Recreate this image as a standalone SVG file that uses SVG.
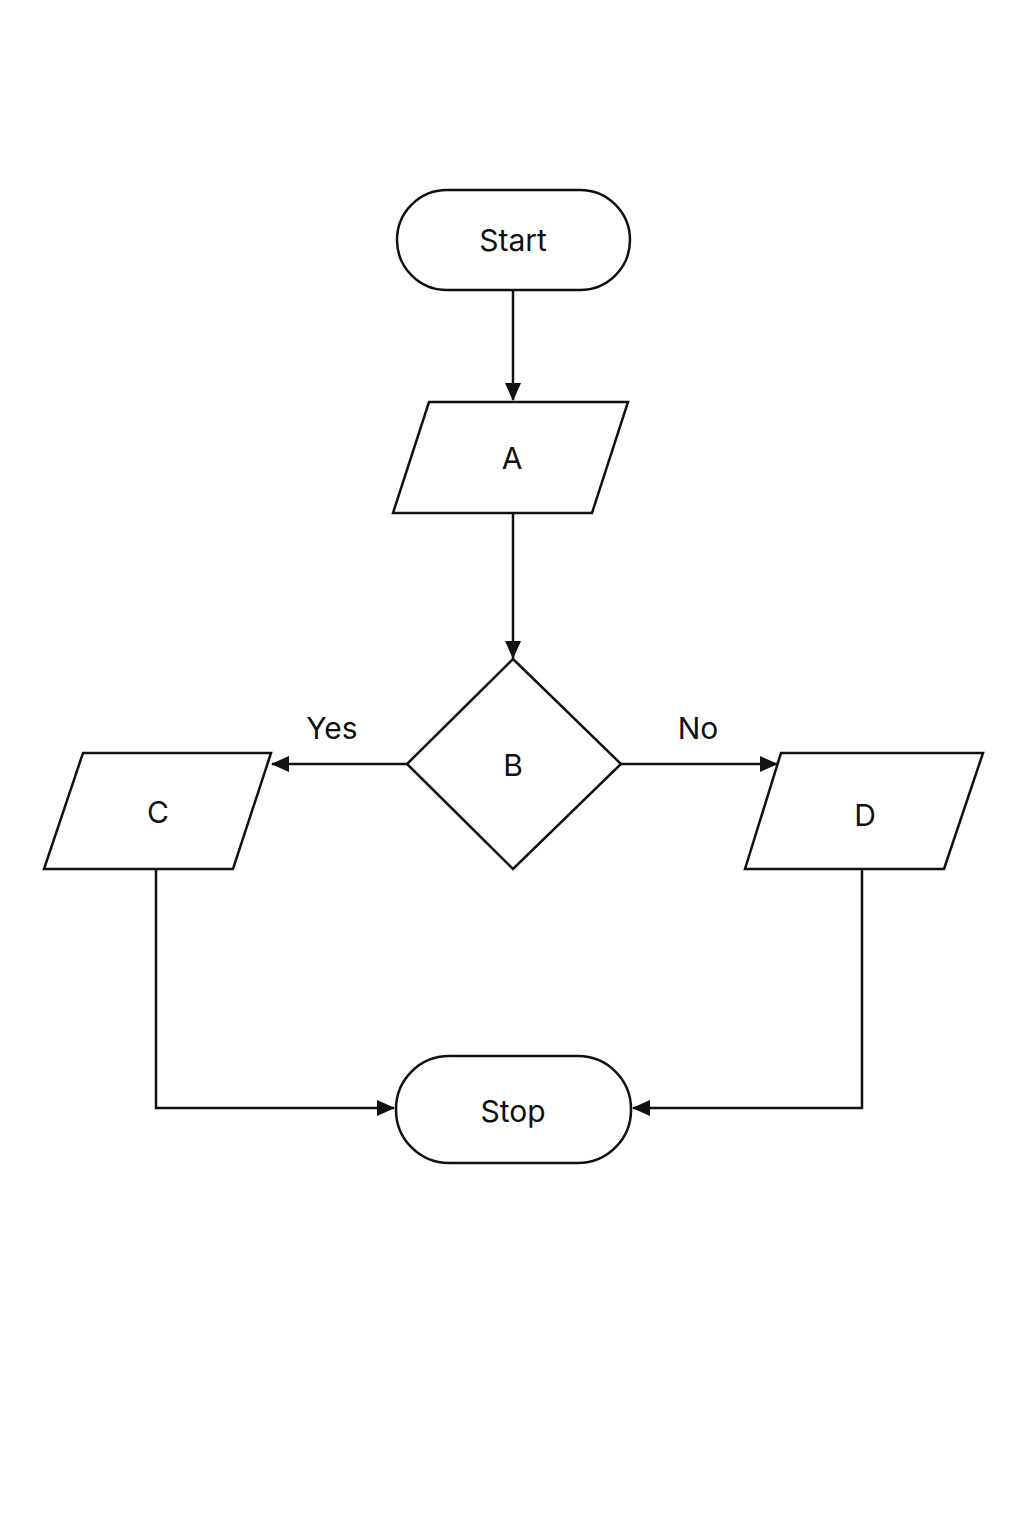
<svg xmlns="http://www.w3.org/2000/svg" width="1024" height="1536" viewBox="0 0 1024 1536">
<style>
.s{fill:#fff;stroke:#111;stroke-width:2.5}
.t{font-family:"Inter","Liberation Sans",sans-serif;font-size:30px;fill:#111;text-anchor:middle;dominant-baseline:central}
.c{fill:none;stroke:#111;stroke-width:2.5}
</style>
<defs><marker id="a" markerWidth="18" markerHeight="16" refX="17" refY="8" orient="auto" markerUnits="userSpaceOnUse" viewBox="0 0 18 16"><path d="M0,0L18,8L0,16z" fill="#111"/></marker></defs>
<rect width="1024" height="1536" fill="#fff"/>
<g id="connectors">
<path class="c" d="M513,291V400" marker-end="url(#a)"/>
<path class="c" d="M513,514V658" marker-end="url(#a)"/>
<path class="c" d="M407,764H272" marker-end="url(#a)"/>
<path class="c" d="M621,764H777" marker-end="url(#a)"/>
<path class="c" d="M156,870V1108H394" marker-end="url(#a)"/>
<path class="c" d="M862,870V1108H633" marker-end="url(#a)"/>
<text class="t" x="332" y="728">Yes</text>
<text class="t" x="698" y="728">No</text>
</g>
<g id="start"><rect class="s" x="397" y="190" width="233" height="100" rx="50"/><text class="t" x="513" y="240">Start</text></g>
<g id="A"><polygon class="s" points="429,402 628,402 592,513 393,513"/><text class="t" x="512" y="458">A</text></g>
<g id="B"><polygon class="s" points="513,659 621,764 513,869 407,764"/><text class="t" x="513" y="765">B</text></g>
<g id="C"><polygon class="s" points="83,753 271,753 233,869 44,869"/><text class="t" x="158" y="812">C</text></g>
<g id="D"><polygon class="s" points="781,753 983,753 944,869 745,869"/><text class="t" x="865" y="815">D</text></g>
<g id="stop"><rect class="s" x="396" y="1056" width="235" height="107" rx="53"/><text class="t" x="513" y="1111">Stop</text></g>
</svg>
